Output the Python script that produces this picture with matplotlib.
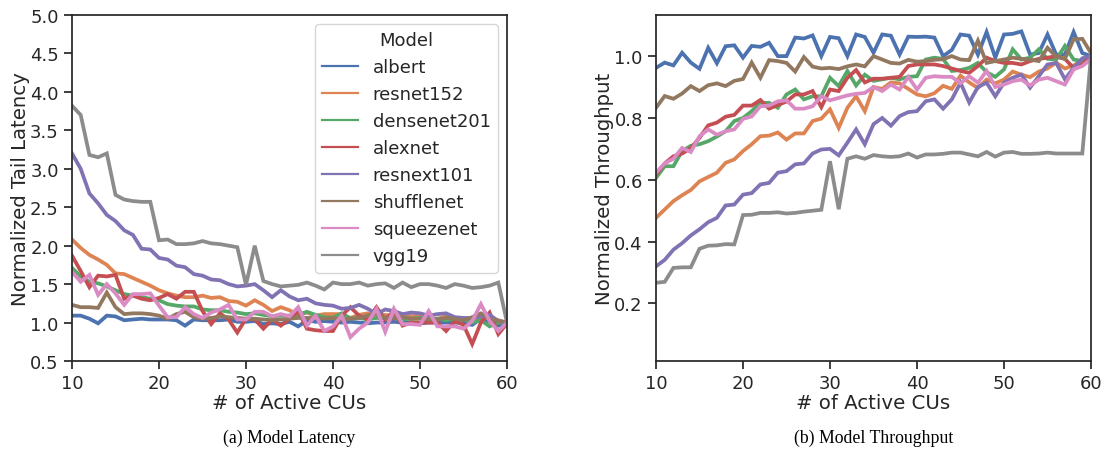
import matplotlib
matplotlib.use("Agg")
import matplotlib.pyplot as plt
from matplotlib.lines import Line2D
import numpy as np

cus = list(range(10, 61))
models = ["albert", "resnet152", "densenet201", "alexnet", "resnext101",
          "shufflenet", "squeezenet", "vgg19"]
colors = ["#4C72B0", "#DD8452", "#55A868", "#C44E52", "#8172B3",
          "#937860", "#DA8BC3", "#8C8C8C"]

# ---- Normalized tail latency (x = 10..60) ----
lat_albert = [1.09, 1.09, 1.05, 0.99, 1.09, 1.08, 1.03, 1.04, 1.05, 1.04,
              1.04, 1.04, 1.03, 0.96, 1.04, 1.03, 1.03, 1.03, 1.04, 1.01,
              1.01, 1.02, 0.98, 0.99, 0.98, 1.01, 0.95, 1.03, 1.01, 1.02,
              1.01, 1.00, 1.01, 1.00, 0.99, 1.00, 1.00, 1.01, 1.00, 1.00,
              0.99, 1.00, 1.00, 1.00, 1.00, 0.99, 0.97, 1.05, 1.01, 0.96, 0.99]
lat_resnet152 = [2.08, 1.97, 1.88, 1.82, 1.75, 1.64, 1.63, 1.58, 1.53, 1.48,
                 1.42, 1.38, 1.35, 1.33, 1.33, 1.35, 1.32, 1.33, 1.28, 1.27,
                 1.22, 1.29, 1.23, 1.15, 1.20, 1.16, 1.10, 1.13, 1.09, 1.11,
                 1.11, 1.11, 1.06, 1.10, 1.12, 1.07, 1.10, 1.08, 1.10, 1.08,
                 1.09, 1.05, 1.05, 1.08, 1.05, 1.05, 1.02, 1.06, 1.06, 1.03, 1.00]
lat_densenet201 = [1.71, 1.60, 1.53, 1.51, 1.47, 1.42, 1.37, 1.35, 1.33, 1.31,
                   1.29, 1.24, 1.22, 1.21, 1.21, 1.17, 1.16, 1.16, 1.14, 1.13,
                   1.11, 1.12, 1.10, 1.08, 1.09, 1.09, 1.10, 1.14, 1.10, 1.07,
                   1.06, 1.12, 1.05, 1.06, 1.04, 1.06, 1.05, 1.07, 1.04, 1.05,
                   1.06, 1.04, 1.05, 1.03, 1.05, 1.04, 1.00, 1.03, 0.95, 1.00, 1.00]
lat_alexnet = [1.87, 1.67, 1.46, 1.61, 1.60, 1.62, 1.31, 1.35, 1.31, 1.29,
               1.32, 1.37, 1.31, 1.40, 1.40, 1.15, 0.98, 1.12, 1.04, 0.87,
               1.05, 1.04, 0.92, 1.04, 0.96, 1.05, 1.15, 0.92, 0.90, 0.89,
               0.89, 1.09, 1.20, 1.09, 1.04, 1.20, 1.04, 1.15, 0.96, 1.00,
               1.00, 1.00, 1.00, 0.89, 1.02, 0.97, 0.72, 1.00, 1.13, 0.85, 0.99]
lat_resnext101 = [3.20, 3.00, 2.68, 2.55, 2.40, 2.32, 2.20, 2.14, 1.96, 1.95,
                  1.84, 1.82, 1.74, 1.72, 1.63, 1.61, 1.56, 1.55, 1.50, 1.47,
                  1.48, 1.50, 1.42, 1.33, 1.42, 1.34, 1.29, 1.31, 1.25, 1.23,
                  1.22, 1.18, 1.19, 1.23, 1.18, 1.11, 1.17, 1.15, 1.11, 1.13,
                  1.12, 1.09, 1.11, 1.12, 1.07, 1.06, 1.06, 1.08, 1.10, 1.02, 1.00]
lat_shufflenet = [1.23, 1.20, 1.20, 1.19, 1.39, 1.20, 1.11, 1.12, 1.12, 1.11,
                  1.09, 1.05, 1.11, 1.14, 1.07, 1.05, 1.06, 1.08, 1.07, 1.06,
                  1.05, 1.05, 1.04, 1.03, 1.04, 1.05, 1.06, 1.06, 1.06, 1.05,
                  1.06, 1.04, 1.05, 1.06, 1.09, 1.12, 1.06, 1.05, 1.07, 1.05,
                  1.05, 1.04, 1.04, 1.06, 1.05, 1.03, 1.07, 1.12, 1.05, 1.02, 1.00]
lat_squeezenet = [1.66, 1.53, 1.62, 1.36, 1.50, 1.38, 1.23, 1.37, 1.37, 1.38,
                  1.22, 1.07, 1.07, 1.20, 1.11, 1.06, 1.13, 1.17, 1.23, 1.04,
                  1.04, 1.14, 1.14, 1.08, 1.11, 1.08, 1.20, 0.96, 1.09, 0.89,
                  0.95, 1.09, 0.81, 0.92, 1.00, 1.18, 0.88, 1.18, 0.98, 0.98,
                  0.97, 1.15, 0.95, 0.95, 0.95, 0.92, 1.02, 1.24, 1.02, 0.89, 1.00]
lat_vgg19 = [3.82, 3.70, 3.18, 3.15, 3.20, 2.66, 2.60, 2.58, 2.57, 2.57,
             2.07, 2.08, 2.02, 2.02, 2.03, 2.06, 2.03, 2.02, 2.00, 1.98,
             1.49, 2.00, 1.54, 1.50, 1.47, 1.48, 1.49, 1.52, 1.48, 1.43,
             1.52, 1.50, 1.50, 1.52, 1.48, 1.50, 1.51, 1.45, 1.52, 1.46,
             1.50, 1.50, 1.48, 1.45, 1.50, 1.48, 1.45, 1.46, 1.48, 1.52, 1.00]

# ---- Normalized throughput (x = 10..60) ----
thr_albert = [0.962, 0.979, 0.970, 1.011, 0.979, 0.959, 1.027, 0.977, 1.032, 1.035,
              0.995, 1.033, 1.030, 1.043, 1.000, 1.000, 1.060, 1.057, 1.067, 1.000,
              1.062, 1.058, 1.000, 1.070, 1.062, 1.011, 1.070, 1.066, 1.005, 1.063,
              1.062, 1.063, 1.060, 1.000, 1.020, 1.070, 1.066, 1.005, 1.078, 0.995,
              1.070, 1.072, 1.080, 1.005, 1.010, 1.070, 1.005, 1.005, 1.078, 1.010, 1.000]
thr_resnet152 = [0.477, 0.504, 0.531, 0.550, 0.567, 0.595, 0.609, 0.623, 0.655, 0.666,
                 0.693, 0.715, 0.741, 0.743, 0.753, 0.730, 0.750, 0.750, 0.790, 0.798,
                 0.828, 0.768, 0.833, 0.870, 0.822, 0.900, 0.894, 0.915, 0.912, 0.894,
                 0.876, 0.870, 0.880, 0.904, 0.894, 0.937, 0.915, 0.897, 0.924, 0.912,
                 0.924, 0.950, 0.940, 0.932, 0.950, 0.960, 0.979, 0.960, 0.970, 0.985, 1.000]
thr_densenet201 = [0.606, 0.644, 0.644, 0.693, 0.710, 0.715, 0.725, 0.740, 0.757, 0.790,
                   0.800, 0.822, 0.849, 0.849, 0.833, 0.876, 0.892, 0.860, 0.870, 0.870,
                   0.930, 0.903, 0.952, 0.905, 0.940, 0.920, 0.925, 0.930, 0.925, 0.933,
                   0.935, 0.989, 0.995, 0.991, 0.952, 0.955, 0.962, 0.978, 0.948, 0.933,
                   0.957, 1.022, 0.989, 0.995, 1.022, 0.991, 0.989, 1.033, 0.989, 0.984, 1.000]
thr_alexnet = [0.617, 0.653, 0.676, 0.685, 0.702, 0.736, 0.776, 0.785, 0.804, 0.810,
               0.840, 0.840, 0.858, 0.830, 0.842, 0.853, 0.876, 0.876, 0.887, 0.835,
               0.892, 0.887, 0.930, 0.955, 0.915, 0.927, 0.927, 0.930, 0.933, 0.968,
               0.973, 0.973, 0.973, 0.968, 0.960, 0.952, 0.946, 0.968, 0.995, 0.984,
               0.978, 0.978, 0.973, 0.984, 0.991, 0.995, 1.000, 0.991, 0.962, 0.973, 1.000]
thr_resnext101 = [0.320, 0.341, 0.374, 0.395, 0.420, 0.440, 0.463, 0.477, 0.517, 0.520,
                  0.552, 0.557, 0.585, 0.590, 0.623, 0.628, 0.650, 0.653, 0.685, 0.698,
                  0.700, 0.679, 0.720, 0.763, 0.715, 0.780, 0.800, 0.775, 0.806, 0.819,
                  0.822, 0.854, 0.860, 0.830, 0.860, 0.914, 0.850, 0.900, 0.914, 0.870,
                  0.914, 0.930, 0.940, 0.898, 0.935, 0.973, 0.978, 0.925, 0.962, 0.993, 1.000]
thr_shufflenet = [0.833, 0.871, 0.862, 0.879, 0.903, 0.887, 0.906, 0.912, 0.903, 0.920,
                  0.926, 0.979, 0.930, 0.987, 0.984, 0.978, 0.950, 0.997, 0.966, 0.960,
                  0.962, 0.958, 0.967, 0.973, 0.967, 1.000, 0.989, 0.978, 0.976, 0.988,
                  0.982, 0.984, 0.988, 0.990, 1.000, 0.989, 0.987, 1.050, 0.978, 0.984,
                  0.989, 0.995, 0.991, 0.989, 0.984, 1.027, 0.998, 0.991, 1.054, 1.056, 1.010]
thr_squeezenet = [0.623, 0.653, 0.668, 0.703, 0.690, 0.741, 0.763, 0.746, 0.757, 0.763,
                  0.797, 0.805, 0.838, 0.840, 0.854, 0.857, 0.830, 0.830, 0.838, 0.870,
                  0.857, 0.865, 0.873, 0.878, 0.881, 0.900, 0.887, 0.908, 0.892, 0.933,
                  0.892, 0.930, 0.935, 0.933, 0.933, 0.912, 0.935, 0.914, 0.952, 0.900,
                  0.908, 0.919, 0.924, 0.905, 0.924, 0.930, 0.919, 0.908, 0.957, 0.968, 0.990]
thr_vgg19 = [0.267, 0.270, 0.315, 0.317, 0.317, 0.377, 0.387, 0.388, 0.392, 0.391,
             0.486, 0.487, 0.493, 0.493, 0.495, 0.491, 0.493, 0.497, 0.500, 0.503,
             0.660, 0.505, 0.668, 0.676, 0.668, 0.680, 0.676, 0.674, 0.676, 0.685,
             0.672, 0.682, 0.682, 0.684, 0.688, 0.688, 0.682, 0.676, 0.690, 0.675,
             0.688, 0.690, 0.684, 0.684, 0.685, 0.688, 0.685, 0.685, 0.685, 0.685, 1.000]

latency = [lat_albert, lat_resnet152, lat_densenet201, lat_alexnet,
           lat_resnext101, lat_shufflenet, lat_squeezenet, lat_vgg19]
throughput = [thr_albert, thr_resnet152, thr_densenet201, thr_alexnet,
              thr_resnext101, thr_shufflenet, thr_squeezenet, thr_vgg19]

lat_yticks = [0.5, 1.0, 1.5, 2.0, 2.5, 3.0, 3.5, 4.0, 4.5, 5.0]
thr_yticks = [0.2, 0.4, 0.6, 0.8, 1.0]
xticks = [10, 20, 30, 40, 50, 60]

dark = "#262626"
FS = 13
LFS = 14.2
plt.rcParams.update({
    "font.family": "DejaVu Sans",
    "font.size": FS,
    "axes.edgecolor": dark,
    "axes.linewidth": 1.25,
    "axes.labelcolor": dark,
    "text.color": dark,
    "xtick.color": dark,
    "ytick.color": dark,
    "xtick.major.size": 6,
    "ytick.major.size": 6,
    "xtick.major.width": 1.25,
    "ytick.major.width": 1.25,
    "xtick.labelsize": FS,
    "ytick.labelsize": FS,
})

fig = plt.figure(figsize=(11.08, 4.56), dpi=100)
ax1 = fig.add_axes([72 / 1108, 1 - 362 / 456, 435 / 1108, 346 / 456])
ax2 = fig.add_axes([656 / 1108, 1 - 362 / 456, 435 / 1108, 346 / 456])

LW = 2.7
for vals, c in zip(latency, colors):
    ax1.plot(cus, vals, color=c, lw=LW, solid_joinstyle="miter")
for vals, c in zip(throughput, colors):
    ax2.plot(cus, vals, color=c, lw=LW, solid_joinstyle="miter")

ax1.set_xlim(10, 60)
ax1.set_ylim(0.5, 5.0)
ax1.set_xticks(xticks)
ax1.set_yticks(lat_yticks)
ax1.set_yticklabels([f"{v:.1f}" for v in lat_yticks])
ax1.set_xlabel("# of Active CUs", fontsize=LFS, labelpad=0.5)
ax1.set_ylabel("Normalized Tail Latency", fontsize=LFS, labelpad=0)

ax2.set_xlim(10, 60)
ax2.set_ylim(0.014, 1.133)
ax2.set_xticks(xticks)
ax2.set_yticks(thr_yticks)
ax2.set_yticklabels([f"{v:.1f}" for v in thr_yticks])
ax2.set_xlabel("# of Active CUs", fontsize=LFS, labelpad=0.5)
ax2.set_ylabel("Normalized Throughput", fontsize=LFS, labelpad=0)

handles = [Line2D([], [], color=c, lw=1.6) for c in colors]
leg = ax1.legend(handles, models, title="Model", loc="upper right",
                 fontsize=FS, title_fontsize=FS, frameon=True,
                 fancybox=True, framealpha=0.8, edgecolor="#cccccc")
leg.get_frame().set_linewidth(1.0)

fig.text((72 + 507) / 2 / 1108, 1 - 438 / 456, "(a) Model Latency",
         ha="center", va="center", family="Liberation Serif", fontsize=12.8,
         color="black")
fig.text((656 + 1091) / 2 / 1108, 1 - 438 / 456, "(b) Model Throughput",
         ha="center", va="center", family="Liberation Serif", fontsize=12.8,
         color="black")

fig.savefig("out.png", dpi=100)
